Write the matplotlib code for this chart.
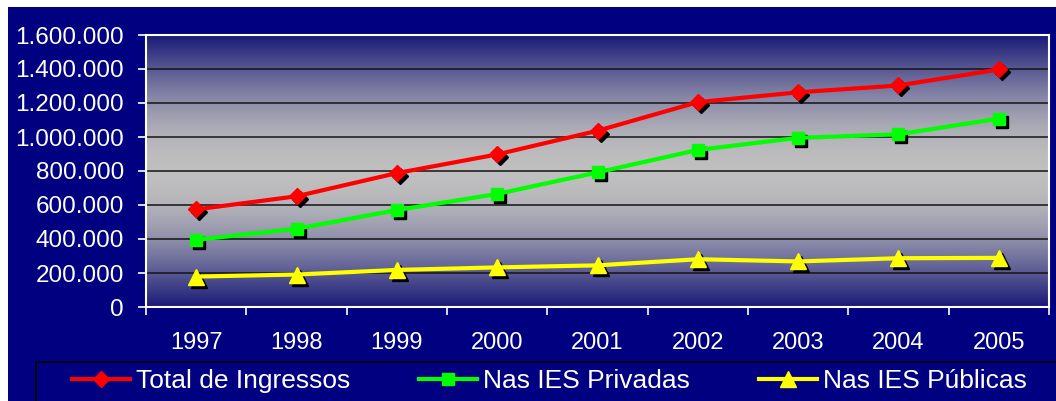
import numpy as np
import matplotlib
matplotlib.use("Agg")
import matplotlib.pyplot as plt
from matplotlib.patches import Rectangle
from matplotlib.transforms import offset_copy
from matplotlib.ticker import FuncFormatter

anos = ["1997", "1998", "1999", "2000", "2001", "2002", "2003", "2004", "2005"]
total = [573900, 651353, 787638, 897557, 1036690, 1205140, 1262904, 1303110, 1397281]
privadas = [395000, 460000, 570000, 665000, 792000, 924000, 995000, 1016000, 1108000]
publicas = [179000, 191000, 218000, 233000, 245000, 281000, 268000, 287000, 289000]

plt.rcParams['font.family'] = ['Liberation Sans', 'DejaVu Sans']

W, H = 1056, 401
navy = '#000080'
fig = plt.figure(figsize=(W / 100, H / 100), dpi=100, facecolor=navy)
# white strips on top and left
fig.add_artist(Rectangle((0, 1 - 7 / H), 1, 7 / H, transform=fig.transFigure,
                         facecolor='white', edgecolor='none', zorder=-5))
fig.add_artist(Rectangle((0, 0), 8 / W, 1, transform=fig.transFigure,
                         facecolor='white', edgecolor='none', zorder=-5))
# legend box (runs off the bottom and right edges)
fig.add_artist(Rectangle((36 / W, -0.2), 1.0, 0.2 + 1 - 362 / H, transform=fig.transFigure,
                         facecolor=navy, edgecolor='black', lw=1.2, zorder=-4))

# plot area in pixels: left 146, right 1049, top 35, bottom 307
ax = fig.add_axes([146 / W, 1 - 307 / H, (1049 - 146) / W, (307 - 35) / H])

# vertical gradient navy - silver - navy
f = np.linspace(0, 1, 300)
m = np.sin(np.pi * f)[:, None]
edge = np.array([0.10, 0.10, 0.47])
mid = np.array([0.75, 0.75, 0.75])
grad = edge + m * (mid - edge)
ax.imshow(grad[:, None, :], extent=[0, 1, 0, 1], transform=ax.transAxes,
          aspect='auto', zorder=0, interpolation='bilinear')

x = np.arange(len(anos))
series = [
    (total, '#ff0000', 'D', 8, "Total de Ingressos"),
    (privadas, '#00ff00', 's', 9, "Nas IES Privadas"),
    (publicas, '#ffff00', '^', 11, "Nas IES Públicas"),
]
shadow = offset_copy(ax.transData, fig=fig, x=3, y=-3, units='dots')
handles = []
for vals, col, mk, ms, lab in series:
    ax.plot(x, vals, linestyle='none', marker=mk, ms=ms, color='black',
            transform=shadow, zorder=3)
    h, = ax.plot(x, vals, color=col, lw=3, marker=mk, ms=ms, mec=col, mfc=col,
                 zorder=4, label=lab)
    handles.append(h)

ax.set_xlim(-0.5, len(anos) - 0.5)
ax.set_ylim(0, 1600000)
ax.set_yticks(np.arange(0, 1600001, 200000))
ax.yaxis.set_major_formatter(FuncFormatter(lambda v, p: f"{int(v):,}".replace(",", ".")))
ax.set_xticks(np.arange(-0.5, len(anos), 1.0))
ax.set_xticklabels([])
ax.set_xticks(x, minor=True)
ax.set_xticklabels(anos, minor=True)
ax.tick_params(axis='x', which='major', length=6, width=1.2, color='white', direction='out')
ax.tick_params(axis='x', which='minor', length=0, pad=18, labelsize=17, labelcolor='white')
ax.tick_params(axis='y', length=6, width=1.2, color='white', pad=10,
               labelsize=17.5, labelcolor='white')

for yv in range(200000, 1600000, 200000):
    ax.axhline(yv, color='#141414', lw=1.1, zorder=1)
for s in ax.spines.values():
    s.set_color('white')
    s.set_linewidth(1.5)

leg = fig.legend(handles=handles, loc='center left', ncol=3,
                 bbox_to_anchor=(72 / W, 1 - 381 / H), borderaxespad=0,
                 frameon=False, fontsize=19, handlelength=2.2, handletextpad=0.23,
                 columnspacing=2.6, borderpad=0)
for t in leg.get_texts():
    t.set_color('white')

fig.savefig('out.png', dpi=100, facecolor=navy)
